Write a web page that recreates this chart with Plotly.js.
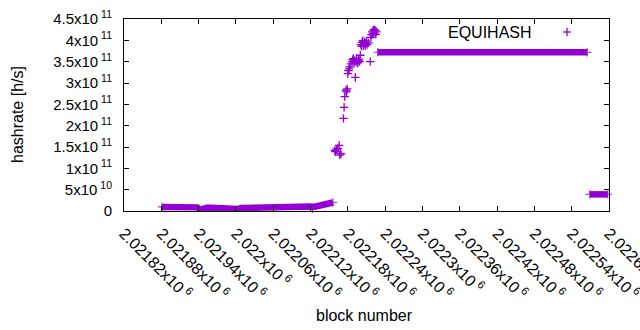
<!DOCTYPE html>
<html><head><meta charset="utf-8">
<script src="https://cdn.plot.ly/plotly-3.0.1.min.js"></script>
<style>html,body{margin:0;padding:0;background:#fff}</style>
</head><body><div id="chart" style="width:640px;height:330px"></div>
<script>
const seriesName = "EQUIHASH";

// dense low-hashrate era (blocks sampled along the band)
const lowBlocks = [2021881, 2021894, 2021910, 2021926, 2021938, 2021943, 2021948, 2021953, 2021961, 2021972, 2021976, 2021990, 2022003, 2022008, 2022023, 2022039, 2022055, 2022071, 2022087, 2022103, 2022119, 2022127, 2022135, 2022143, 2022151, 2022156];
const lowHash   = [0.95e10, 0.95e10, 0.95e10, 0.9e10, 0.85e10, 0.3e10, 0.6e10, 0.75e10, 0.75e10, 0.7e10, 0.45e10, 0.4e10, 0.45e10, 0.7e10, 0.8e10, 0.85e10, 0.9e10, 0.95e10, 1.0e10, 1.0e10, 1.05e10, 1.0e10, 1.3e10, 1.55e10, 1.8e10, 2.0e10];

// scattered ramp-up blocks
const rampBlocks = [2022123, 2022159, 2022160, 2022162, 2022164, 2022166, 2022167, 2022168, 2022169, 2022173, 2022174, 2022175, 2022177, 2022178, 2022179, 2022180, 2022181, 2022182, 2022183, 2022185, 2022187, 2022188, 2022189, 2022190, 2022191, 2022192, 2022193, 2022194, 2022195, 2022196, 2022197, 2022198, 2022199, 2022200, 2022201, 2022202, 2022203, 2022204, 2022205, 2022206, 2022207, 2022208, 2022209, 2022210, 2022211, 2022213, 2022216, 2022217, 2022218, 2022219, 2022220, 2022221, 2022222, 2022223, 2022224, 2022225, 2022226];
const rampHash   = [0.6e10, 1.42e11, 1.39e11, 1.45e11, 1.47e11, 1.54e11, 1.31e11, 1.35e11, 1.34e11, 2.17e11, 2.43e11, 2.68e11, 2.83e11, 2.79e11, 2.86e11, 3.22e11, 3.29e11, 3.33e11, 3.38e11, 3.45e11, 3.5e11, 3.55e11, 3.57e11, 3.46e11, 3.52e11, 3.13e11, 3.5e11, 3.58e11, 3.47e11, 3.48e11, 3.53e11, 3.56e11, 3.5e11, 3.65e11, 3.9e11, 3.86e11, 3.95e11, 3.99e11, 3.88e11, 3.92e11, 3.96e11, 3.87e11, 3.93e11, 3.98e11, 3.9e11, 3.94e11, 3.5e11, 4.07e11, 4.13e11, 4.2e11, 4.15e11, 4.24e11, 4.17e11, 4.25e11, 4.22e11, 4.14e11, 4.2e11];

// plateau
const plateauBlocks = [2022228, 2022300, 2022400, 2022500, 2022565];
const plateauHash   = [3.72e11, 3.72e11, 3.72e11, 3.72e11, 3.72e11];

// tail
const tailBlocks = [2022569, 2022580, 2022590, 2022598];
const tailHash   = [3.9e10, 3.9e10, 3.9e10, 3.9e10];

const xTickVals = [2021820, 2021880, 2021940, 2022000, 2022060, 2022120, 2022180, 2022240, 2022300, 2022360, 2022420, 2022480, 2022540, 2022600];
const xTickMant = ["2.02182", "2.02188", "2.02194", "2.022", "2.02206", "2.02212", "2.02218", "2.02224", "2.0223", "2.02236", "2.02242", "2.02248", "2.02254", "2.0226"];
const yTickVals = [0, 5e10, 1e11, 1.5e11, 2e11, 2.5e11, 3e11, 3.5e11, 4e11, 4.5e11];
const yTickMant = ["0", "5", "1", "1.5", "2", "2.5", "3", "3.5", "4", "4.5"];
const yTickExp  = ["", "10", "11", "11", "11", "11", "11", "11", "11", "11"];

const purple = '#9400d3';
const mk = {symbol: 'cross-thin', size: 6, color: purple, line: {color: purple, width: 1.3}};

function band(xs, ys) {
  // crosses shown only at the band ends; the line carries the dense run of points
  const sizes = xs.map((_, i) => (i === 0 || i === xs.length - 1) ? 6 : 0);
  return {x: xs, y: ys, type: 'scatter', mode: 'lines+markers', line: {color: purple, width: 6.5},
          marker: Object.assign({}, mk, {size: sizes}), cliponaxis: false, showlegend: false, hoverinfo: 'skip'};
}
const traces = [
  band(lowBlocks, lowHash),
  band(plateauBlocks, plateauHash),
  band(tailBlocks, tailHash),
  {x: rampBlocks, y: rampHash, type: 'scatter', mode: 'markers', marker: mk, cliponaxis: false, name: seriesName, showlegend: false}
];

const xTickText = xTickMant.map(m => m + 'x10<sup> 6</sup>');
const yTickText = yTickMant.map((m, i) => yTickExp[i] ? m + 'x10<sup> ' + yTickExp[i] + '</sup>' : m);

const axisCommon = {ticks: 'inside', ticklen: 5, tickcolor: '#000', tickwidth: 1, showline: true, linecolor: '#000', linewidth: 1,
  mirror: 'ticks', showgrid: false, zeroline: false, automargin: false, tickmode: 'array', ticklabeloverflow: 'allow'};

const L = 124, R = 609, T = 19, B = 211;
const px = v => (v - L) / (R - L);
const py = v => (B - v) / (B - T);

const layout = {
  width: 640, height: 330, margin: {l: L, r: 640 - R, t: T, b: 330 - B, pad: 0},
  paper_bgcolor: '#fff', plot_bgcolor: '#fff', showlegend: false,
  font: {family: 'Liberation Sans, Arial, sans-serif', size: 15, color: '#000'},
  xaxis: Object.assign({}, axisCommon, {range: [2021820, 2022600], tickvals: xTickVals, ticktext: xTickText, tickangle: 45, ticklabelstandoff: 6,
    tickfont: {family: 'Liberation Sans, Arial, sans-serif', size: 16, color: '#000'}}),
  yaxis: Object.assign({}, axisCommon, {range: [0, 4.5e11], tickvals: yTickVals, ticktext: yTickText, ticklabelstandoff: 8,
    tickfont: {family: 'Liberation Sans, Arial, sans-serif', size: 15, color: '#000'}}),
  annotations: [
    {text: 'hashrate [h/s]', xref: 'paper', yref: 'paper', x: px(17), y: 0.5, textangle: -90, showarrow: false, xanchor: 'center', yanchor: 'middle', font: {size: 16}},
    {text: 'block number', xref: 'paper', yref: 'paper', x: px(364), y: py(315), showarrow: false, xanchor: 'center', yanchor: 'middle', font: {size: 16}},
    {text: seriesName, xref: 'paper', yref: 'paper', x: px(534), y: py(32), showarrow: false, xanchor: 'right', yanchor: 'middle', font: {size: 16}}
  ],
  shapes: [
    {type: 'line', xref: 'paper', yref: 'paper', xsizemode: 'pixel', ysizemode: 'pixel', xanchor: px(567), yanchor: py(32), x0: -4, x1: 4, y0: 0, y1: 0, line: {color: purple, width: 1.3}},
    {type: 'line', xref: 'paper', yref: 'paper', xsizemode: 'pixel', ysizemode: 'pixel', xanchor: px(567), yanchor: py(32), x0: 0, x1: 0, y0: -4, y1: 4, line: {color: purple, width: 1.3}}
  ]
};

Plotly.newPlot('chart', traces, layout, {staticPlot: true, displayModeBar: false});
</script></body></html>
